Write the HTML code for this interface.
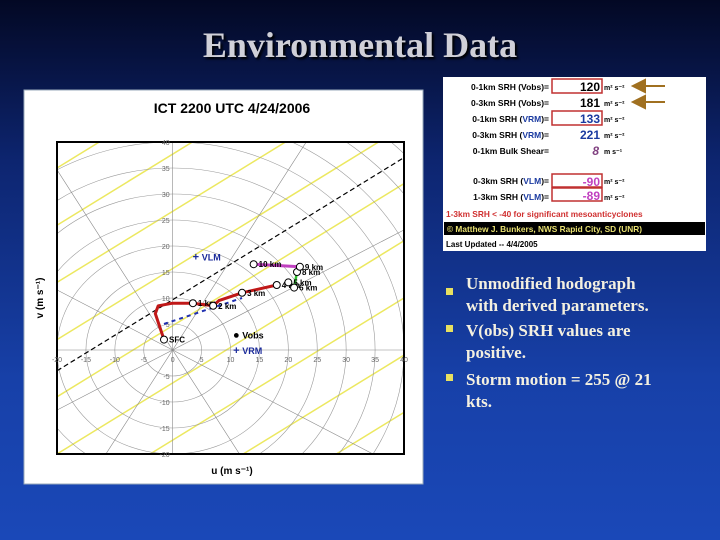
<!DOCTYPE html>
<html><head><meta charset="utf-8"><style>
html,body{margin:0;width:720px;height:540px;overflow:hidden;font-family:"Liberation Sans",sans-serif}
#slide{position:relative;width:720px;height:540px;overflow:hidden;background:linear-gradient(#030824 0%,#0d2570 30%,#1740a8 70%,#1a48b8 100%)}
.title{position:absolute;left:0;width:720px;top:24px;text-align:center;font:bold 36px "Liberation Serif",serif;color:#d0d0d8;text-shadow:2px 2px 2px #000}
.bl{position:absolute;left:466px;font:bold 17px/22px "Liberation Serif",serif;color:#f4f0e0;width:205px}
.bu{position:absolute;left:446px;width:7px;height:7px;background:#e8e060}
</style></head><body>
<div id="slide">
<div class="title">Environmental Data</div>

<svg style="position:absolute;left:0;top:0" width="720" height="540">
<rect x="24" y="90" width="399" height="394" fill="#fff" stroke="#9ab"/>
<text x="232" y="113" text-anchor="middle" font-size="14" font-weight="bold" font-family="Liberation Sans">ICT 2200 UTC 4/24/2006</text>
<defs><clipPath id="pc"><rect x="57" y="142" width="347" height="312"/></clipPath></defs>
<g id="plot" clip-path="url(#pc)"></g>
<rect x="57" y="142" width="347" height="312" fill="none" stroke="#000" stroke-width="2"/>
<g id="ticks" font-size="7" fill="#666" font-family="Liberation Sans"></g>
<g id="marks"></g>
<text x="43" y="298" transform="rotate(-90 43 298)" text-anchor="middle" font-size="10" font-weight="bold">v (m s⁻¹)</text>
<text x="232" y="474" text-anchor="middle" font-size="10" font-weight="bold">u (m s⁻¹)</text>

<g font-family="Liberation Sans" font-weight="bold">
<rect x="443" y="77" width="263" height="174" fill="#fff"/>
<g font-size="8.5" text-anchor="end">
<text x="549" y="90">0-1km SRH (Vobs)=</text>
<text x="549" y="106">0-3km SRH (Vobs)=</text>
<text x="549" y="122">0-1km SRH (<tspan fill="#1a3aa0">VRM</tspan>)=</text>
<text x="549" y="138">0-3km SRH (<tspan fill="#1a3aa0">VRM</tspan>)=</text>
<text x="549" y="154">0-1km Bulk Shear=</text>
<text x="549" y="184">0-3km SRH (<tspan fill="#1a3aa0">VLM</tspan>)=</text>
<text x="549" y="200">1-3km SRH (<tspan fill="#1a3aa0">VLM</tspan>)=</text>
</g>
<g fill="none" stroke="#c03030" stroke-width="1.5">
<rect x="552" y="79" width="50" height="14"/><rect x="552" y="111" width="50" height="14"/>
<rect x="552" y="174" width="50" height="13"/><rect x="552" y="188" width="50" height="13"/>
</g>
<g font-size="12" text-anchor="end">
<text x="600" y="91">120</text><text x="600" y="107">181</text>
<text x="600" y="123" fill="#1a3aa0">133</text><text x="600" y="139" fill="#1a3aa0">221</text>
<text x="599" y="155" fill="#804080" font-style="italic">8</text>
<text x="600" y="186" fill="#c040c0">-90</text><text x="600" y="200" fill="#c040c0">-89</text>
</g>
<g font-size="7"><text x="604" y="90">m² s⁻²</text><text x="604" y="106">m² s⁻²</text><text x="604" y="122">m² s⁻²</text><text x="604" y="138">m² s⁻²</text><text x="604" y="154">m s⁻¹</text><text x="604" y="184">m² s⁻²</text><text x="604" y="200">m² s⁻²</text></g>
<g stroke="#a07020" stroke-width="2" fill="#a07020"><line x1="640" y1="86" x2="665" y2="86"/><path d="M633 86 L645 80 L645 92Z"/><line x1="640" y1="102" x2="665" y2="102"/><path d="M633 102 L645 96 L645 108Z"/></g>
<text x="446" y="217" font-size="8.3" fill="#d03030">1-3km SRH &lt; -40 for significant mesoanticyclones</text>
<rect x="444" y="222" width="261" height="13" fill="#000"/>
<text x="447" y="232" font-size="8.3" fill="#e8e070">© Matthew J. Bunkers, NWS Rapid City, SD (UNR)</text>
<text x="446" y="247" font-size="8" fill="#000">Last Updated -- 4/4/2005</text>
</g>
</svg>

<div class="bu" style="top:288px"></div>
<div class="bl" style="top:273px">Unmodified hodograph with derived parameters.</div>
<div class="bu" style="top:325px"></div>
<div class="bl" style="top:320px">V(obs) SRH values are positive.</div>
<div class="bu" style="top:374px"></div>
<div class="bl" style="top:369px">Storm motion = 255 @ 21 kts.</div>
</div>
<script>
const labels=["SFC","1 km","2 km","3 km","4 km","5 km","6 km","8 km","9 km","10 km"];
const uVals=[-1.5,3.5,7,12,18,20,21,21.5,22,14];
const vVals=[2,9,8.5,11,12.5,13,12,15,16,16.5];
const curveU=[-1.5,-3,-2.5,0,3.5,7,8,12,18];
const curveV=[2,7,8.5,9,9,8.5,9.5,11,12.5];
const motionLabels=["Vobs","VRM","VLM"];
const motionU=[11,11,4];
const motionV=[3,0,18];
const tickVals=[-20,-15,-10,-5,0,5,10,15,20,25,30,35,40];
const NS="http://www.w3.org/2000/svg";
const X=u=>57+(u+20)*347/60, Y=v=>454-(v+20)*312/60;
function mk(p,t,a){const e=document.createElementNS(NS,t);for(const k in a)e.setAttribute(k,a[k]);p.appendChild(e);return e;}
const plot=document.getElementById('plot'),ticks=document.getElementById('ticks'),marks=document.getElementById('marks');
for(let k=-8;k<8;k++){const l=mk(plot,'line',{x1:X(-20),y1:Y(-20+k*11),x2:X(40),y2:Y(-20+k*11+41),stroke:'#ece860','stroke-width':1.5});
}
for(let r=5;r<=55;r+=5){const c=mk(plot,'ellipse',{cx:X(0),cy:Y(0),rx:r*347/60,ry:r*312/60,fill:'none',stroke:'#999','stroke-width':0.6});
}
for(let a=0;a<180;a+=30){const t=a*Math.PI/180;const l=mk(plot,'line',{x1:X(-70*Math.cos(t)),y1:Y(-70*Math.sin(t)),x2:X(70*Math.cos(t)),y2:Y(70*Math.sin(t)),stroke:'#888','stroke-width':0.6});
}
mk(plot,'line',{x1:X(-20),y1:Y(-4),x2:X(40),y2:Y(37),stroke:'#000','stroke-width':1.2,'stroke-dasharray':'5,3'});
tickVals.forEach(t=>{
 const a=mk(ticks,'text',{x:X(t),y:Y(0)+12,'text-anchor':'middle'});a.textContent=t;
 
 if(t!==0){const b=mk(ticks,'text',{x:X(0)-3,y:Y(t)+3,'text-anchor':'end'});b.textContent=t;
 }
});
let d='';curveU.forEach((u,i)=>d+=(i?'L':'M')+X(u)+' '+Y(curveV[i]));
const hp=mk(marks,'path',{d:d,fill:'none',stroke:'#c01818','stroke-width':3,'stroke-linejoin':'round'});

mk(marks,'path',{d:`M${X(21)} ${Y(12)}L${X(21.5)} ${Y(15)}`,stroke:'#30c030','stroke-width':2.5});
mk(marks,'path',{d:`M${X(22)} ${Y(16)}L${X(14)} ${Y(16.5)}`,stroke:'#c040c0','stroke-width':3});
mk(marks,'path',{d:`M${X(-1.5)} ${Y(5)}L${X(12)} ${Y(10)}`,stroke:'#2030b0','stroke-width':2,'stroke-dasharray':'4,4'});
uVals.forEach((u,i)=>{
 const c=mk(marks,'circle',{cx:X(u),cy:Y(vVals[i]),r:3.5,fill:'#fff',stroke:'#000'});
 
 const t=mk(marks,'text',{x:X(u)+5,y:Y(vVals[i])+3,'font-size':8,'font-weight':'bold'});t.textContent=labels[i];
 
});
motionU.forEach((u,i)=>{
 const col=i?'#1a2a9a':'#000';
 const m=mk(marks,'text',{x:X(u),y:Y(motionV[i])+4,'font-size':11,fill:col,'text-anchor':'middle','font-weight':'bold'});m.textContent=i?'+':'●';
 
 const t=mk(marks,'text',{x:X(u)+6,y:Y(motionV[i])+4,'font-size':9,fill:col,'font-weight':'bold'});t.textContent=motionLabels[i];
 
});
</script>
</body></html>
